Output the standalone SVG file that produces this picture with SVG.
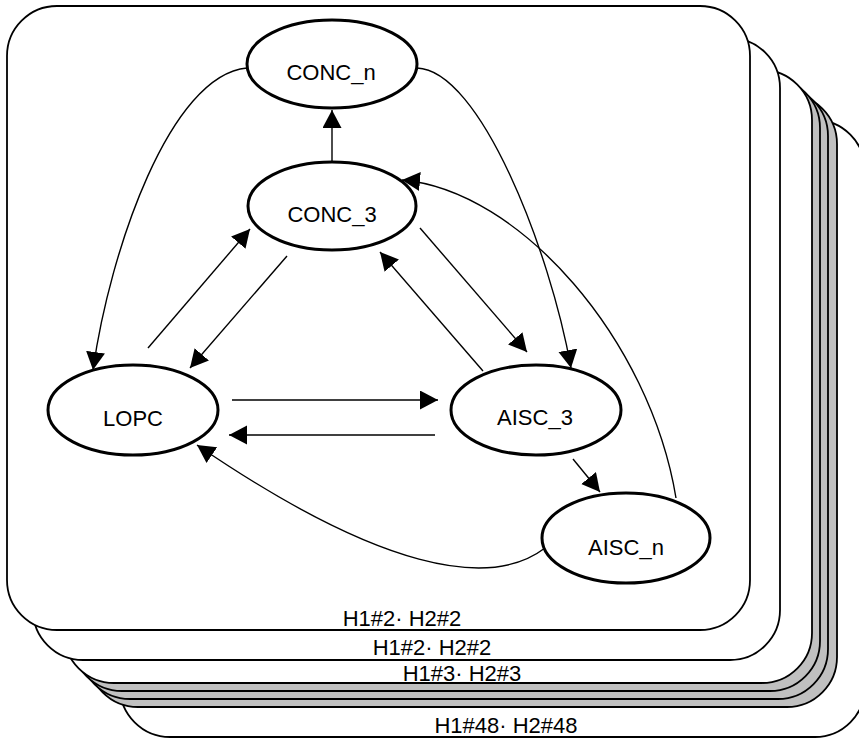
<svg xmlns="http://www.w3.org/2000/svg" width="859" height="738" viewBox="0 0 859 738">
<style>
.frame{fill:#fff;stroke:#000;stroke-width:1.8}
.gray{fill:#c0c0c0;stroke:#000;stroke-width:1.8}
.node{fill:#fff;stroke:#000;stroke-width:3}
.lbl{font-family:"Liberation Sans",Arial,sans-serif;font-size:22px;fill:#000;text-anchor:middle}
.edge{fill:none;stroke:#000;stroke-width:1.4}
</style>
<defs>
<marker id="ah" markerUnits="userSpaceOnUse" markerWidth="20" markerHeight="20" refX="18" refY="9.5" orient="auto">
<path d="M0,0 L18,9.5 L0,19 Z" fill="#000"/>
</marker>
</defs>
<g id="frames">
<rect class="frame" x="120" y="120" width="745" height="617" rx="50" ry="50"/>
<rect class="gray" x="88" y="94" width="749" height="613" rx="50" ry="50"/>
<rect class="gray" x="80" y="86" width="748" height="613" rx="50" ry="50"/>
<rect class="gray" x="72" y="78" width="748" height="613" rx="50" ry="50"/>
<rect class="frame" x="64" y="70" width="748" height="613" rx="50" ry="50"/>
<rect class="frame" x="33" y="38" width="747" height="622" rx="50" ry="50"/>
<rect class="frame" x="7" y="6" width="743" height="624" rx="50" ry="50"/>
<text class="lbl" x="506" y="733">H1#48· H2#48</text>
<text class="lbl" x="462" y="681">H1#3· H2#3</text>
<text class="lbl" x="432" y="655">H1#2· H2#2</text>
<text class="lbl" x="402" y="626">H1#2· H2#2</text>
</g>
<g id="connectors">
<line class="edge" x1="332" y1="162" x2="332" y2="110" marker-end="url(#ah)"/>
<path class="edge" d="M247 68 C170 75 110 250 93 370" marker-end="url(#ah)"/>
<path class="edge" d="M417 68 C480 70 550 250 571 368" marker-end="url(#ah)"/>
<path class="edge" d="M676 498 C650 340 520 190 402 180" marker-end="url(#ah)"/>
<line class="edge" x1="148" y1="348" x2="250" y2="229" marker-end="url(#ah)"/>
<line class="edge" x1="287" y1="256" x2="190" y2="368" marker-end="url(#ah)"/>
<line class="edge" x1="420" y1="228" x2="527" y2="352" marker-end="url(#ah)"/>
<line class="edge" x1="483" y1="371" x2="380" y2="252" marker-end="url(#ah)"/>
<line class="edge" x1="232" y1="400" x2="438" y2="400" marker-end="url(#ah)"/>
<line class="edge" x1="435" y1="435" x2="229" y2="435" marker-end="url(#ah)"/>
<line class="edge" x1="573" y1="459" x2="600" y2="492" marker-end="url(#ah)"/>
<path class="edge" d="M545 548 C490 590 380 570 197 445" marker-end="url(#ah)"/>
</g>
<g id="CONC_n">
<ellipse class="node" cx="332" cy="64" rx="85" ry="44"/>
<text class="lbl" x="331" y="80">CONC_n</text>
</g>
<g id="CONC_3">
<ellipse class="node" cx="332" cy="206" rx="84" ry="44"/>
<text class="lbl" x="332" y="222">CONC_3</text>
</g>
<g id="LOPC">
<ellipse class="node" cx="133" cy="410" rx="85" ry="45"/>
<text class="lbl" x="133" y="426">LOPC</text>
</g>
<g id="AISC_3">
<ellipse class="node" cx="536" cy="410" rx="85" ry="45"/>
<text class="lbl" x="535" y="425">AISC_3</text>
</g>
<g id="AISC_n">
<ellipse class="node" cx="626" cy="538" rx="84" ry="45"/>
<text class="lbl" x="626" y="555">AISC_n</text>
</g>
</svg>
